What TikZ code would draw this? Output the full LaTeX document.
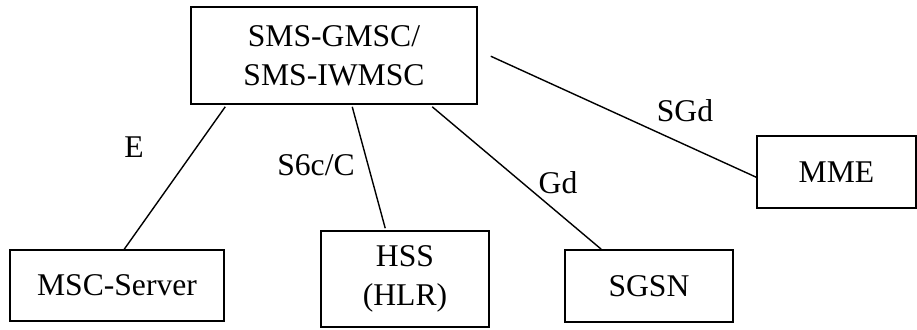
\documentclass[tikz,border=0pt]{standalone}
\usepackage{fontspec}
\setmainfont{Liberation Serif}
\usetikzlibrary{calc}
\colorlet{boxcol}{black}
\colorlet{linkcol}{black}

\begin{document}
\begin{tikzpicture}[x=0.02cm, y=-0.02cm,
		entity/.style={draw=boxcol, line width=0.9pt, inner sep=0pt, align=center, font=\fontsize{18}{22}\selectfont},
		link/.style={draw=linkcol, line width=0.8pt},
		iface/.style={inner sep=0pt, font=\fontsize{18}{22}\selectfont}]
		\useasboundingbox (0, 0) rectangle (917, 329);
		\node[entity, minimum width=5.72cm, minimum height=1.94cm] (gmsc) at (334, 55.5) {SMS-GMSC/\\SMS-IWMSC};
		\node[entity, minimum width=4.28cm, minimum height=1.42cm] (msc) at (117, 285.5) {MSC-Server};
		\node[entity, minimum width=3.36cm, minimum height=1.92cm] (hss) at (405, 279) {HSS\\(HLR)};
		\node[entity, minimum width=3.36cm, minimum height=1.44cm] (sgsn) at (649, 286) {SGSN};
		\node[entity, minimum width=3.18cm, minimum height=1.44cm] (mme) at (836.5, 172) {MME};
		\draw[link] ($(gmsc.south west)+(35, 2)$) -- ($(msc.north west)+(115, 0)$);
		\draw[link] ($(gmsc.south west)+(162, 2)$) -- ($(hss.north west)+(65, -2)$);
		\draw[link] ($(gmsc.south west)+(242, 2)$) -- ($(sgsn.north west)+(37, 0)$);
		\draw[link] ($(gmsc.north east)+(13, 50)$) -- ($(mme.north west)+(0, 42)$);
		\node[iface] (lblE) at (134, 147) {E};
		\node[iface] (lblS6c) at (316, 165) {S6c/C};
		\node[iface] (lblGd) at (558, 183) {Gd};
		\node[iface] (lblSGd) at (685, 111) {SGd};
	\end{tikzpicture}
\end{document}
